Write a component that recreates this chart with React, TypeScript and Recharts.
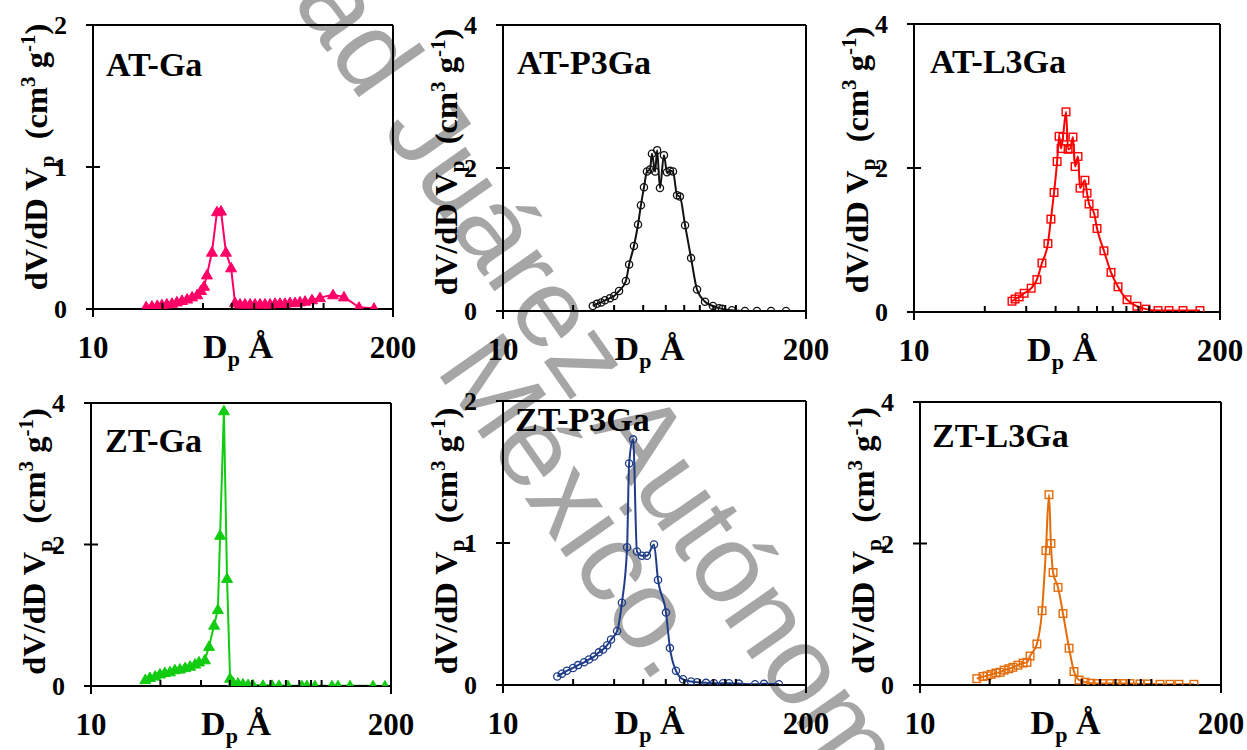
import { Line, LineChart, ReferenceLine, XAxis, YAxis } from "recharts";

const SERIF = '"Liberation Serif", "Times New Roman", Times, serif';
const SANS = '"Liberation Sans", Arial, sans-serif';

// x axis: log scale 10..200, labels only at the ends, minor ticks between
const X_TICKS = [10, 20, 30, 40, 50, 60, 70, 80, 90, 100, 200];
const X_LABELLED = [10, 200];

// AT-Ga (pink triangles)
const atGaD = [17.0, 18.0, 19.0, 19.9, 20.9, 22.0, 23.1, 24.3, 25.6, 26.9, 28.3, 29.4, 30.3, 31.2, 32.8, 34.5, 35.9, 37.7, 39.7, 41.3, 43.4, 45.6, 48.0, 50.4, 53.0, 55.7, 58.6, 61.6, 64.7, 68.0, 71.5, 75.2, 79.0, 83.1, 89.1, 96.5, 109.9, 122.6, 142.4, 165.4];
const atGaV = [0.015, 0.02, 0.025, 0.03, 0.035, 0.04, 0.05, 0.06, 0.07, 0.085, 0.1, 0.13, 0.16, 0.24, 0.4, 0.685, 0.69, 0.4, 0.29, 0.045, 0.035, 0.035, 0.035, 0.035, 0.035, 0.035, 0.035, 0.04, 0.04, 0.04, 0.045, 0.045, 0.05, 0.055, 0.065, 0.08, 0.1, 0.085, 0.012, 0.005];

// AT-P3Ga (black circles)
const atP3D = [24.3, 25.3, 26.4, 27.4, 28.8, 30.0, 31.5, 33.7, 34.8, 36.5, 38.0, 39.1, 40.3, 41.5, 42.8, 43.6, 45.0, 45.9, 47.2, 49.1, 50.6, 52.1, 53.7, 55.9, 57.5, 60.5, 64.2, 68.1, 73.7, 79.7, 84.6, 87.2, 96.2, 109.4, 123.2, 141.5, 164.1];
const atP3V = [0.07, 0.1, 0.12, 0.15, 0.18, 0.21, 0.28, 0.42, 0.65, 0.91, 1.21, 1.48, 1.73, 1.95, 1.98, 2.2, 1.95, 2.25, 1.72, 2.18, 1.94, 1.96, 1.95, 1.62, 1.6, 1.2, 0.74, 0.3, 0.13, 0.07, 0.04, 0.03, 0.01, 0, 0, 0, 0];

// AT-L3Ga (red squares)
const atL3D = [26.1, 26.9, 28.0, 29.4, 31.5, 33.3, 35.0, 37.1, 38.2, 39.4, 40.6, 41.4, 42.2, 43.0, 44.3, 45.2, 46.1, 47.4, 48.4, 49.8, 50.8, 53.3, 54.4, 55.5, 58.3, 60.0, 64.2, 68.8, 73.7, 80.5, 88.7, 96.9, 109.0, 121.4, 139.2, 164.4];
const atL3V = [0.15, 0.18, 0.21, 0.26, 0.33, 0.45, 0.68, 0.95, 1.29, 1.66, 2.09, 2.44, 2.27, 2.43, 2.78, 2.26, 2.27, 2.43, 2.02, 2.16, 1.72, 1.83, 1.65, 1.5, 1.37, 1.16, 0.85, 0.55, 0.35, 0.17, 0.08, 0.04, 0.02, 0.02, 0.02, 0.02];

// ZT-Ga (green triangles)
const ztGaD = [17.2, 18.0, 19.0, 19.9, 20.9, 22.0, 23.1, 24.3, 25.6, 26.9, 28.3, 29.4, 31.2, 32.5, 34.2, 35.5, 36.3, 37.7, 38.9, 40.1, 41.3, 43.4, 45.6, 48.0, 50.4, 55.7, 61.0, 65.4, 71.5, 82.2, 86.4, 93.6, 110.9, 117.8, 132.8, 167.1, 188.3];
const ztGaV = [0.09, 0.12, 0.14, 0.17, 0.19, 0.2, 0.23, 0.24, 0.26, 0.28, 0.31, 0.34, 0.37, 0.56, 0.86, 1.08, 2.13, 3.89, 1.52, 0.11, 0.05, 0.04, 0.03, 0.02, 0.015, 0.01, 0.01, 0.008, 0.005, 0.003, 0.004, 0.003, 0.002, 0.003, 0.002, 0.002, 0];

// ZT-P3Ga (navy circles)
const ztP3D = [17.1, 17.9, 18.8, 20.0, 21.0, 22.3, 23.4, 24.6, 25.8, 26.9, 28.0, 29.1, 30.9, 32.4, 34.1, 34.8, 36.2, 37.6, 39.5, 41.5, 44.5, 46.3, 50.1, 52.1, 55.3, 59.3, 64.2, 68.1, 74.4, 80.5, 88.0, 93.4, 103.1, 120.8, 132.0, 153.1];
const ztP3V = [0.06, 0.08, 0.1, 0.12, 0.14, 0.16, 0.18, 0.2, 0.23, 0.25, 0.28, 0.32, 0.38, 0.58, 0.97, 1.56, 1.73, 0.94, 0.91, 0.91, 0.99, 0.74, 0.51, 0.26, 0.1, 0.04, 0.025, 0.02, 0.015, 0.012, 0.012, 0.012, 0.01, 0.005, 0.008, 0.005];

// ZT-L3Ga (orange squares)
const ztL3D = [17.6, 18.7, 19.5, 20.3, 21.3, 22.2, 23.1, 24.2, 25.2, 26.5, 27.9, 29.0, 29.9, 32.0, 33.7, 35.0, 36.1, 36.8, 37.6, 39.5, 41.5, 44.1, 46.3, 48.7, 51.7, 54.8, 58.2, 61.8, 66.2, 71.0, 75.4, 80.8, 89.3, 96.7, 109.0, 120.3, 131.6, 152.8];
const ztL3V = [0.09, 0.12, 0.13, 0.15, 0.17, 0.18, 0.21, 0.23, 0.25, 0.28, 0.31, 0.32, 0.41, 0.58, 1.05, 1.9, 2.69, 2.0, 1.59, 1.38, 1.01, 0.52, 0.19, 0.07, 0.04, 0.025, 0.02, 0.02, 0.02, 0.02, 0.02, 0.02, 0.015, 0.015, 0.01, 0.01, 0.01, 0.01];

type MarkerKind = "triangle" | "circle" | "square";

interface Panel {
  title: string;
  d: number[];
  v: number[];
  color: string;
  marker: MarkerKind;
  curve: "linear" | "monotone";
  yMax: number;
  // plot box in page pixels
  l: number;
  t: number;
  r: number;
  b: number;
  titleDx: number;
  titleDy: number;
  labelDy: number;
}

const PANELS: Panel[] = [
  { title: "AT-Ga", d: atGaD, v: atGaV, color: "#ff0066", marker: "triangle", curve: "linear", yMax: 2, l: 93, t: 25, r: 393, b: 309, titleDx: 13, titleDy: 51, labelDy: -10 },
  { title: "AT-P3Ga", d: atP3D, v: atP3V, color: "#111111", marker: "circle", curve: "monotone", yMax: 4, l: 503, t: 25, r: 806, b: 311, titleDx: 14, titleDy: 49, labelDy: -6 },
  { title: "AT-L3Ga", d: atL3D, v: atL3V, color: "#ff0000", marker: "square", curve: "monotone", yMax: 4, l: 914, t: 24, r: 1220, b: 312, titleDx: 16, titleDy: 49, labelDy: -8 },
  { title: "ZT-Ga", d: ztGaD, v: ztGaV, color: "#11cc11", marker: "triangle", curve: "linear", yMax: 4, l: 91, t: 403, r: 391, b: 686, titleDx: 14, titleDy: 49, labelDy: -3 },
  { title: "ZT-P3Ga", d: ztP3D, v: ztP3V, color: "#1f3c88", marker: "circle", curve: "monotone", yMax: 2, l: 503, t: 401, r: 806, b: 685, titleDx: 12, titleDy: 30, labelDy: -2 },
  { title: "ZT-L3Ga", d: ztL3D, v: ztL3V, color: "#e46c0a", marker: "square", curve: "monotone", yMax: 4, l: 920, t: 402, r: 1221, b: 685, titleDx: 12, titleDy: 45, labelDy: -3 },
];

const PAD_L = 100;
const PAD_T = 30;
const PAD_R = 40;
const PAD_B = 80;

function XTick(props: any) {
  const { x, y, payload } = props;
  const value = payload?.value;
  if (X_LABELLED.includes(value)) {
    return (
      <g>
        <line x1={x} y1={y} x2={x} y2={y + 8} stroke="#000" strokeWidth={2} />
        <text x={x} y={y + 49} textAnchor="middle" fontFamily={SERIF} fontWeight="bold" fontSize={31} fill="#000">
          {value}
        </text>
      </g>
    );
  }
  // minor ticks point inward
  return <line x1={x} y1={y} x2={x} y2={y - 6} stroke="#000" strokeWidth={2} />;
}

function YTick(props: any) {
  const { x, y, payload } = props;
  return (
    <g>
      <line x1={x - 7} y1={y} x2={x + 7} y2={y} stroke="#000" strokeWidth={2} />
      <text x={x - 26} y={y + 9} textAnchor="end" fontFamily={SERIF} fontWeight="bold" fontSize={26} fill="#000">
        {payload?.value}
      </text>
    </g>
  );
}

function Marker({ cx, cy, kind, color }: { cx: number; cy: number; kind: MarkerKind; color: string }) {
  if (cx == null || cy == null) return null;
  if (kind === "triangle") {
    const pts = `${cx},${cy - 5.5} ${cx + 5.5},${cy + 4} ${cx - 5.5},${cy + 4}`;
    return <polygon points={pts} fill={color} stroke={color} strokeWidth={1} />;
  }
  if (kind === "circle") {
    return <circle cx={cx} cy={cy} r={3.6} fill="none" stroke={color} strokeWidth={1.3} />;
  }
  return <rect x={cx - 3.8} y={cy - 3.8} width={7.6} height={7.6} fill="none" stroke={color} strokeWidth={1.4} />;
}

function PanelChart({ p }: { p: Panel }) {
  const w = p.r - p.l;
  const h = p.b - p.t;
  const rows = p.d.map((d, i) => ({ d, v: p.v[i] }));

  const xLabel = () => (
    <g>
      <text x={PAD_L + w / 2 - 5} y={PAD_T + h + 49} textAnchor="middle" fontFamily={SERIF} fontWeight="bold" fontSize={34} fill="#000">
        D<tspan dy={8} fontSize={22}>p</tspan>
        <tspan dy={-8}> Å</tspan>
      </text>
      <text x={PAD_L + p.titleDx} y={PAD_T + p.titleDy} fontFamily={SERIF} fontWeight="bold" fontSize={34} fill="#000">
        {p.title}
      </text>
    </g>
  );

  const yLabel = () => {
    const cx = PAD_L - 46;
    const cy = PAD_T + h / 2 + p.labelDy;
    return (
      <text
        x={cx}
        y={cy}
        transform={`rotate(-90 ${cx} ${cy})`}
        textAnchor="middle"
        fontFamily={SERIF}
        fontWeight="bold"
        fontSize={32.5}
        fill="#000"
        style={{ whiteSpace: "pre" }}
      >
        dV/dD V<tspan dy={7} fontSize={21}>p</tspan>
        <tspan dy={-7}>{"  (cm"}</tspan>
        <tspan dy={-12} fontSize={21}>3</tspan>
        <tspan dy={12}>{" g"}</tspan>
        <tspan dy={-12} fontSize={21}>-1</tspan>
        <tspan dy={12}>)</tspan>
      </text>
    );
  };

  return (
    <div style={{ position: "absolute", left: p.l - PAD_L, top: p.t - PAD_T }}>
      <LineChart
        width={w + PAD_L + PAD_R}
        height={h + PAD_T + PAD_B}
        data={rows}
        margin={{ top: PAD_T, right: PAD_R, bottom: 0, left: 0 }}
      >
        <XAxis
          dataKey="d"
          type="number"
          scale="log"
          domain={[10, 200]}
          allowDataOverflow
          ticks={X_TICKS}
          interval={0}
          tickSize={0}
          tickMargin={0}
          tickLine={false}
          tick={<XTick />}
          axisLine={{ stroke: "#000", strokeWidth: 2 }}
          height={PAD_B}
          label={{ content: xLabel }}
        />
        <YAxis
          type="number"
          domain={[0, p.yMax]}
          allowDataOverflow
          ticks={[0, p.yMax / 2, p.yMax]}
          interval={0}
          width={PAD_L}
          tickSize={0}
          tickMargin={0}
          tickLine={false}
          tick={<YTick />}
          axisLine={{ stroke: "#000", strokeWidth: 2 }}
          label={{ content: yLabel }}
        />
        <ReferenceLine y={p.yMax} stroke="#000" strokeWidth={2} />
        <ReferenceLine x={200} stroke="#000" strokeWidth={2} />
        <Line
          type={p.curve}
          dataKey="v"
          stroke={p.color}
          strokeWidth={2}
          isAnimationActive={false}
          dot={(props: any) => (
            <Marker key={`m-${props.index}`} cx={props.cx} cy={props.cy} kind={p.marker} color={p.color} />
          )}
          activeDot={false}
        />
      </LineChart>
    </div>
  );
}

// diagonal watermark behind the panels
function Watermark() {
  const common = {
    fontFamily: SANS,
    fontSize: 112,
    fill: "#a6a6a6",
  };
  return (
    <svg width={1247} height={750} style={{ position: "absolute", left: 0, top: 0, pointerEvents: "none" }}>
      <g transform="rotate(55)">
        <text x={660} y={-238} textAnchor="end" {...common}>
          Universidad Juárez
        </text>
        <text x={686} y={-238} textAnchor="start" {...common}>
          Autónoma de Tabasco
        </text>
        <text x={938} y={-144} textAnchor="end" {...common}>
          México.
        </text>
      </g>
    </svg>
  );
}

export default function App() {
  return (
    <div style={{ position: "absolute", left: 0, top: 0, width: 1247, height: 750, background: "#fff", overflow: "hidden" }}>
      <Watermark />
      {PANELS.map((p) => (
        <PanelChart key={p.title} p={p} />
      ))}
    </div>
  );
}
